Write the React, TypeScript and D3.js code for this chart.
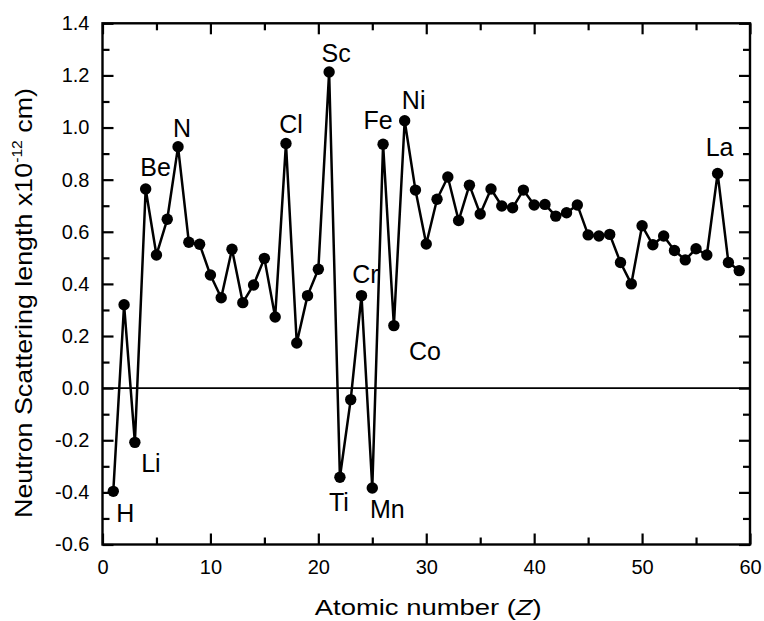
import { useEffect, useRef } from "react";
import * as d3 from "d3";

// atomic numbers 1..59
const elements = [
  "H", "He", "Li", "Be", "B", "C", "N", "O", "F", "Ne",
  "Na", "Mg", "Al", "Si", "P", "S", "Cl", "Ar", "K", "Ca",
  "Sc", "Ti", "V", "Cr", "Mn", "Fe", "Co", "Ni", "Cu", "Zn",
  "Ga", "Ge", "As", "Se", "Br", "Kr", "Rb", "Sr", "Y", "Zr",
  "Nb", "Mo", "Tc", "Ru", "Rh", "Pd", "Ag", "Cd", "In", "Sn",
  "Sb", "Te", "I", "Xe", "Cs", "Ba", "La", "Ce", "Pr",
];

// scattering length, x10^-12 cm
const lengths = [
  -0.396, 0.32, -0.208, 0.764, 0.511, 0.648, 0.926, 0.56, 0.552, 0.434,
  0.347, 0.533, 0.328, 0.396, 0.498, 0.273, 0.939, 0.173, 0.355, 0.456,
  1.213, -0.342, -0.044, 0.355, -0.383, 0.936, 0.24, 1.026, 0.76, 0.553,
  0.725, 0.81, 0.643, 0.779, 0.668, 0.764, 0.699, 0.692, 0.76, 0.703,
  0.705, 0.66, 0.673, 0.703, 0.588, 0.584, 0.59, 0.482, 0.4, 0.623,
  0.55, 0.584, 0.528, 0.492, 0.535, 0.511, 0.824, 0.482, 0.451,
];

const labelled = ["H", "Li", "Be", "N", "Cl", "Sc", "Ti", "Cr", "Mn", "Fe", "Co", "Ni", "La"];

const xMajor = [0, 10, 20, 30, 40, 50, 60];
const xMinor = [5, 15, 25, 35, 45, 55];
const yMajor = [-0.6, -0.4, -0.2, 0, 0.2, 0.4, 0.6, 0.8, 1.0, 1.2, 1.4];
const yMinor = [-0.5, -0.3, -0.1, 0.1, 0.3, 0.5, 0.7, 0.9, 1.1, 1.3];

// label offsets from the dot (px): [dx of text centre, dy of baseline]
const labelOffset = {
  H: [12, 31], Li: [16, 30], Be: [10, -13], N: [4, -10], Cl: [5, -10],
  Sc: [7, -10], Ti: [-1, 34], Cr: [4, -13], Mn: [15, 30], Fe: [-5, -15],
  Co: [31, 34], Ni: [9, -12], La: [2, -17],
};

const FONT = "'Liberation Sans', Arial, sans-serif";

const App = () => {
  const svgRef = useRef(null);

  useEffect(() => {
    const svg = d3.select(svgRef.current);
    svg.selectAll("*").remove();

    const left = 102.5, right = 750, top = 23.3, bottom = 544.5;
    const x = d3.scaleLinear().domain([0, 60]).range([left, right]);
    const y = d3.scaleLinear().domain([-0.6, 1.4]).range([bottom, top]);

    const data = elements.map((el, i) => ({ el, z: i + 1, v: lengths[i] }));

    const styleAxis = (g) => {
      g.select(".domain").remove();
      g.selectAll("line").attr("stroke", "#000").attr("stroke-width", 2.2);
      g.selectAll("text").attr("font-family", FONT).attr("font-size", 20).attr("fill", "#000");
    };

    // bottom
    svg.append("g").attr("transform", `translate(0,${bottom})`)
      .call(d3.axisBottom(x).tickValues(xMajor).tickSize(-11).tickPadding(15).tickFormat(d3.format("d")))
      .call(styleAxis);
    svg.append("g").attr("transform", `translate(0,${bottom})`)
      .call(d3.axisBottom(x).tickValues(xMinor).tickSize(-7).tickFormat(() => ""))
      .call(styleAxis);
    // top
    svg.append("g").attr("transform", `translate(0,${top})`)
      .call(d3.axisTop(x).tickValues(xMajor).tickSize(-11).tickFormat(() => ""))
      .call(styleAxis);
    svg.append("g").attr("transform", `translate(0,${top})`)
      .call(d3.axisTop(x).tickValues(xMinor).tickSize(-7).tickFormat(() => ""))
      .call(styleAxis);
    // left
    svg.append("g").attr("transform", `translate(${left},0)`)
      .call(d3.axisLeft(y).tickValues(yMajor).tickSize(-11).tickPadding(13).tickFormat((d) => d.toFixed(1)))
      .call(styleAxis);
    svg.append("g").attr("transform", `translate(${left},0)`)
      .call(d3.axisLeft(y).tickValues(yMinor).tickSize(-7).tickFormat(() => ""))
      .call(styleAxis);
    // right
    svg.append("g").attr("transform", `translate(${right},0)`)
      .call(d3.axisRight(y).tickValues(yMajor).tickSize(-11).tickFormat(() => ""))
      .call(styleAxis);
    svg.append("g").attr("transform", `translate(${right},0)`)
      .call(d3.axisRight(y).tickValues(yMinor).tickSize(-7).tickFormat(() => ""))
      .call(styleAxis);

    // frame
    svg.append("rect")
      .attr("x", left).attr("y", top)
      .attr("width", right - left).attr("height", bottom - top)
      .attr("fill", "none").attr("stroke", "#000").attr("stroke-width", 2.4);

    // zero line
    svg.append("line")
      .attr("x1", left).attr("x2", right)
      .attr("y1", y(0)).attr("y2", y(0))
      .attr("stroke", "#000").attr("stroke-width", 1.8);

    const line = d3.line().x((d) => x(d.z)).y((d) => y(d.v));
    svg.append("path").datum(data)
      .attr("d", line).attr("fill", "none")
      .attr("stroke", "#000").attr("stroke-width", 2.5).attr("stroke-linejoin", "round");

    svg.selectAll(".dot").data(data).enter().append("circle")
      .attr("class", "dot")
      .attr("cx", (d) => x(d.z)).attr("cy", (d) => y(d.v))
      .attr("r", 5.7).attr("fill", "#000");

    svg.selectAll(".lab").data(data.filter((d) => labelled.includes(d.el))).enter().append("text")
      .attr("class", "lab")
      .attr("x", (d) => x(d.z) + labelOffset[d.el][0])
      .attr("y", (d) => y(d.v) + labelOffset[d.el][1])
      .attr("text-anchor", "middle")
      .attr("font-family", FONT).attr("font-size", 25)
      .text((d) => d.el);

    // axis titles
    const xt = svg.append("text")
      .attr("x", (left + right) / 2 + 2).attr("y", 615)
      .attr("text-anchor", "middle")
      .attr("font-family", FONT).attr("font-size", 22)
      .attr("textLength", 227).attr("lengthAdjust", "spacingAndGlyphs");
    xt.append("tspan").text("Atomic number (");
    xt.append("tspan").attr("font-style", "italic").text("Z");
    xt.append("tspan").text(")");

    const yt = svg.append("text")
      .attr("transform", `translate(31.5,${(88 + 518) / 2}) rotate(-90)`)
      .attr("text-anchor", "middle")
      .attr("font-family", FONT).attr("font-size", 24)
      .attr("textLength", 430).attr("lengthAdjust", "spacingAndGlyphs");
    yt.append("tspan").text("Neutron Scattering length x10");
    yt.append("tspan").attr("font-size", 14).attr("dy", -10).text("-12");
    yt.append("tspan").attr("dy", 10).text(" cm)");
  }, []);

  return (
    <svg
      ref={svgRef}
      width={764}
      height={621}
      style={{ position: "absolute", left: 0, top: 0, background: "#fff" }}
    ></svg>
  );
};

export default App;
